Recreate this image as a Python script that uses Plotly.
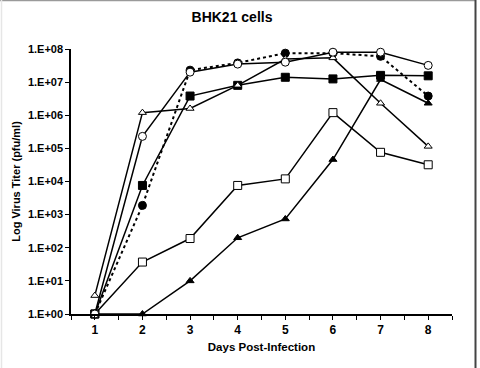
import plotly.graph_objects as go

days = [1, 2, 3, 4, 5, 6, 7, 8]

open_circle = [1, 2.3e5, 2.0e7, 3.5e7, 4.0e7, 8.0e7, 8.0e7, 3.2e7]
filled_circle = [1, 1.9e3, 2.3e7, 3.8e7, 7.5e7, 7.5e7, 6.0e7, 3.8e6]
filled_square = [1, 7.6e3, 3.8e6, 8.0e6, 1.4e7, 1.25e7, 1.6e7, 1.55e7]
open_triangle = [3.6, 1.2e6, 1.6e6, 8.0e6, 5.0e7, 5.4e7, 2.3e6, 1.15e5]
open_square = [1, 37, 190, 7.6e3, 1.2e4, 1.2e6, 7.6e4, 3.2e4]
filled_triangle = [1, 1, 10, 200, 740, 4.6e4, 1.2e7, 2.3e6]

y_tickvals = [1, 10, 100, 1e3, 1e4, 1e5, 1e6, 1e7, 1e8]
y_ticktext = ["1.E+00", "1.E+01", "1.E+02", "1.E+03", "1.E+04",
              "1.E+05", "1.E+06", "1.E+07", "1.E+08"]

FONT = "Liberation Sans, Arial, sans-serif"

fig = go.Figure()

def add(y, symbol, fill, dash="solid", size=8, width=1.5):
    fig.add_trace(go.Scatter(
        x=days, y=y, mode="lines+markers",
        line=dict(color="black", width=width, dash=dash),
        marker=dict(symbol=symbol, size=size, color=fill,
                    line=dict(color="black", width=1)),
        showlegend=False, cliponaxis=False))

add(filled_circle, "circle", "black", dash="dot", size=8, width=2)
add(filled_triangle, "triangle-up", "black", size=7)
add(open_square, "square", "white", size=8)
add(filled_square, "square", "black", size=8)
add(open_triangle, "triangle-up", "white", size=7)
add(open_circle, "circle", "white", size=8)

L, R, T, B = 71, 28, 49, 54
W, H = 480, 368
pw, ph = W - L - R, H - T - B

fig.update_layout(
    width=W, height=H,
    margin=dict(l=L, r=R, t=T, b=B),
    paper_bgcolor="white", plot_bgcolor="white",
    font=dict(family=FONT, color="black", size=11),
    title=dict(text="<b>BHK21 cells</b>", x=(232 - L) / pw, xref="paper",
               xanchor="center", y=1 - 17 / H, yanchor="middle",
               font=dict(size=14, family=FONT)),
    xaxis=dict(range=[0.5, 8.5], tickvals=days,
               ticktext=["<b>%d</b>" % d for d in days],
               showline=True, linecolor="black", linewidth=1.5,
               ticks="outside", ticklen=4, tickcolor="black", tickwidth=1,
               showgrid=False, zeroline=False,
               tickfont=dict(size=12, family=FONT),
               minor=dict(tickvals=[0.5 + i for i in range(9)], ticks="outside",
                          ticklen=4, tickcolor="black", tickwidth=1, showgrid=False),
               title=dict(text="<b>Days Post-Infection</b>", standoff=7,
                          font=dict(size=11.5, family=FONT))),
    yaxis=dict(type="log", range=[0, 8], tickvals=y_tickvals,
               ticktext=["<b>%s</b>" % t for t in y_ticktext],
               showline=True, linecolor="black", linewidth=1.5,
               ticks="outside", ticklen=4, tickcolor="black", tickwidth=1,
               showgrid=False, zeroline=False,
               tickfont=dict(size=11, family=FONT),
               title=dict(text="<b>Log Virus Titer (pfu/ml)</b>", standoff=5,
                          font=dict(size=11, family=FONT))),
)

def px_x(x):
    return (x - L) / pw

def px_y(y):
    return 1 - (y - T) / ph

fig.add_shape(type="line", xref="paper", yref="paper",
              x0=px_x(0), x1=px_x(476), y0=px_y(0.5), y1=px_y(0.5),
              line=dict(color="#9a9a9a", width=1.5))
fig.add_shape(type="line", xref="paper", yref="paper",
              x0=px_x(475.5), x1=px_x(475.5), y0=px_y(0), y1=px_y(368),
              line=dict(color="#444444", width=2))
fig.add_shape(type="line", xref="paper", yref="paper",
              x0=px_x(1.5), x1=px_x(1.5), y0=px_y(0), y1=px_y(368),
              line=dict(color="#e6e6e6", width=1.5))

fig.write_html("out.html")
